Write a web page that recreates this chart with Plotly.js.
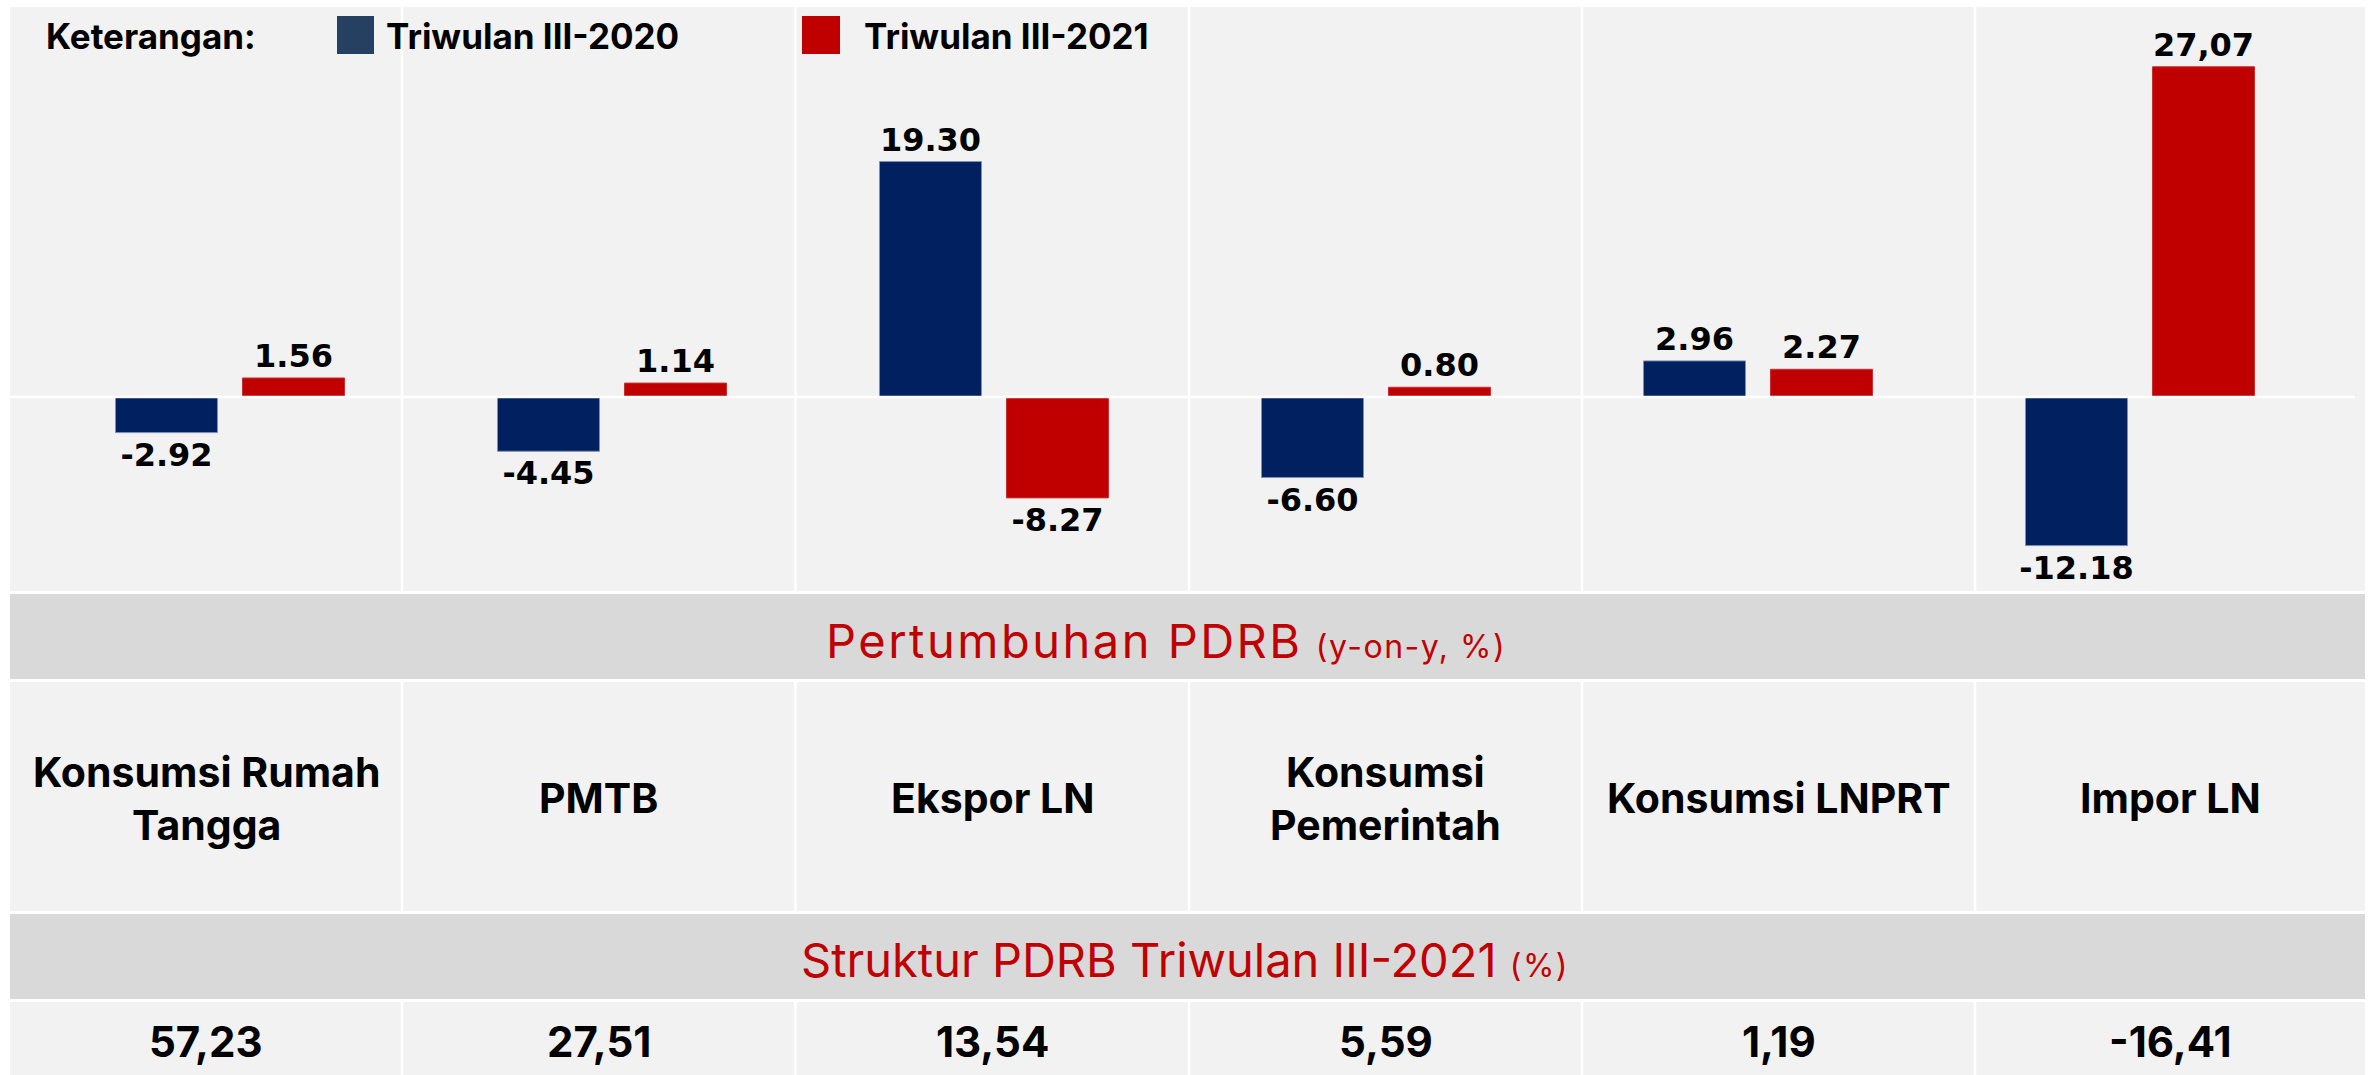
<!DOCTYPE html>
<html>
<head>
<meta charset="utf-8">
<script src="https://cdn.plot.ly/plotly-3.0.1.min.js"></script>
<style>
  html, body { margin: 0; padding: 0; background: #ffffff; }
  #chart { width: 2375px; height: 1075px; }
</style>
</head>
<body>
<div id="chart"></div>
<script>
// ---------------- DATA ----------------
const categories = ['Konsumsi Rumah Tangga', 'PMTB', 'Ekspor LN', 'Konsumsi Pemerintah', 'Konsumsi LNPRT', 'Impor LN'];
const categoryLabels = ['Konsumsi Rumah<br>Tangga', 'PMTB', 'Ekspor LN', 'Konsumsi<br>Pemerintah', 'Konsumsi LNPRT', 'Impor LN'];
const seriesNames = ['Triwulan III-2020', 'Triwulan III-2021'];
const growth2020 = [-2.92, -4.45, 19.30, -6.60, 2.96, -12.18];
const growth2021 = [1.56, 1.14, -8.27, 0.80, 2.27, 27.07];
const labels2020 = ['-2.92', '-4.45', '19.30', '-6.60', '2.96', '-12.18'];
const labels2021 = ['1.56', '1.14', '-8.27', '0.80', '2.27', '27,07'];
const structure2021 = ['57,23', '27,51', '13,54', '5,59', '1,19', '-16,41'];
const legendTitle = 'Keterangan:';
const band1Title = 'Pertumbuhan PDRB';
const band1Sub = '(y-on-y, %)';
const band2Title = 'Struktur PDRB Triwulan III-2021';
const band2Sub = '(%)';

// ---------------- LAYOUT HELPERS ----------------
const W = 2375, H = 1075;
const px = x => x / W;
const py = y => 1 - y / H;
const BLUE = '#002060', RED = '#C00000', LBLUE = '#254061';
const PANEL = '#F2F2F2', BAND = '#D9D9D9';
const FONT = 'Inter, "Noto Sans", sans-serif';
const colLeft = 10, colRight = 2365;
const dividers = [402, 795.5, 1189, 1582, 1975];
const colEdges = [colLeft, ...dividers, colRight];
const colCenters = colEdges.slice(0, -1).map((e, i) => (e + colEdges[i + 1]) / 2);

const barText = { family: 'DejaVu Sans', size: 32, color: '#000', weight: 'bold' };
const traces = [
  {
    type: 'bar', name: seriesNames[0], x: categories, y: growth2020,
    text: labels2020, textposition: 'outside', cliponaxis: false, constraintext: 'none',
    textangle: 0, textfont: barText,
    marker: { color: BLUE, line: { color: '#7f8fb3', width: 1 } },
    hoverinfo: 'skip', showlegend: false
  },
  {
    type: 'bar', name: seriesNames[1], x: categories, y: growth2021,
    text: labels2021, textposition: 'outside', cliponaxis: false, constraintext: 'none',
    textangle: 0, textfont: barText,
    marker: { color: RED, line: { color: '#c83030', width: 1 } },
    hoverinfo: 'skip', showlegend: false
  }
];

const shapes = [];
function rect(x0, y0, x1, y1, color, layer) {
  shapes.push({ type: 'rect', xref: 'paper', yref: 'paper', x0: px(x0), x1: px(x1), y0: py(y1), y1: py(y0),
    fillcolor: color, line: { width: 0 }, layer: layer || 'below' });
}
rect(colLeft, 7, colRight, 591, PANEL);
rect(colLeft, 594, colRight, 679, BAND);
rect(colLeft, 682, colRight, 911, PANEL);
rect(colLeft, 914, colRight, 999, BAND);
rect(colLeft, 1002, colRight, 1075, PANEL);
[[7, 591], [682, 911], [1002, 1075]].forEach(([a, b]) => {
  dividers.forEach(d => shapes.push({ type: 'line', xref: 'paper', yref: 'paper', x0: px(d), x1: px(d), y0: py(b), y1: py(a),
    line: { color: '#ffffff', width: 2.5 }, layer: 'below' }));
});
// zero line
shapes.push({ type: 'line', xref: 'paper', yref: 'y', x0: px(colLeft), x1: px(2355), y0: 0, y1: 0,
  line: { color: '#ffffff', width: 2.5 }, layer: 'above' });
// legend swatches
rect(337, 16, 374, 54, LBLUE, 'above');
rect(802, 16, 840, 54, RED, 'above');

const annotations = [];
function ann(text, x, y, size, opts) {
  annotations.push(Object.assign({ xref: 'paper', yref: 'paper', x: px(x), y: py(y), text: text, showarrow: false,
    xanchor: 'center', yanchor: 'middle', font: { family: FONT, size: size, color: '#000' } }, opts || {}));
}
ann('<b>' + legendTitle + '</b>', 44, 36, 35, { xanchor: 'left' });
ann('<b>' + seriesNames[0] + '</b>', 384, 36, 35, { xanchor: 'left' });
ann('<b>' + seriesNames[1] + '</b>', 862, 36, 35, { xanchor: 'left' });

ann('<span style="letter-spacing:2.5px">' + band1Title + '</span> <span style="font-size:32px;letter-spacing:1.5px">' + band1Sub + '</span>',
  1166, 640, 47, { font: { family: FONT, size: 47, color: RED } });
ann(band2Title + ' <span style="font-size:32px;letter-spacing:1.5px">' + band2Sub + '</span>',
  1185, 959, 47, { font: { family: FONT, size: 47, color: RED } });

categoryLabels.forEach((c, i) => ann('<b>' + c + '</b>', colCenters[i], 798, 41));
structure2021.forEach((v, i) => ann('<b>' + v + '</b>', colCenters[i], 1041, 42));

// axes geometry: category centres at 230 + 382*i px, zero at y=397, 12.2 px per unit
const yTop = 7, yBot = 591, zeroY = 397, pxPerUnit = 12.2;
const layout = {
  width: W, height: H,
  margin: { l: 0, r: 0, t: 0, b: 0, pad: 0 },
  paper_bgcolor: '#ffffff', plot_bgcolor: 'rgba(0,0,0,0)',
  barmode: 'group', bargap: 0.335, bargroupgap: 0.197,
  showlegend: false,
  xaxis: { domain: [px(39), px(2331)], range: [-0.5, 5.5], type: 'category',
    showticklabels: false, showgrid: false, zeroline: false, showline: false, ticks: '', fixedrange: true },
  yaxis: { domain: [py(yBot), py(yTop)],
    range: [-(yBot - zeroY) / pxPerUnit, (zeroY - yTop) / pxPerUnit],
    showticklabels: false, showgrid: false, zeroline: false, showline: false, ticks: '', fixedrange: true },
  shapes: shapes,
  annotations: annotations,
  font: { family: FONT }
};

Plotly.newPlot('chart', traces, layout, { staticPlot: true, displayModeBar: false });
</script>
</body>
</html>
